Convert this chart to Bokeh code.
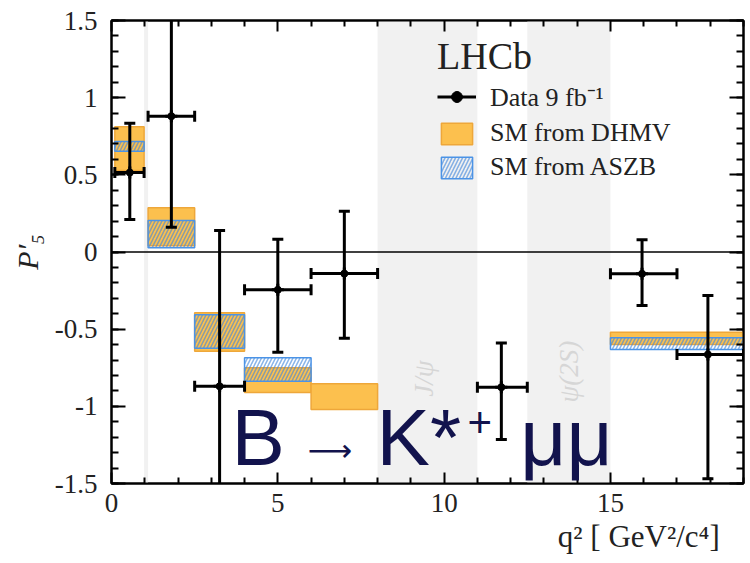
import math
from bokeh.plotting import figure
from bokeh.models import (LinearAxis, FixedTicker, CustomJSTickFormatter, Span, BoxAnnotation,
                          Label, Legend, LegendItem, ColumnDataSource, Range1d, Title)
from bokeh.embed import file_html
from bokeh.resources import INLINE

# ---------------- data ----------------
bin_lo = [0.1, 1.1, 2.5, 4.0, 6.0, 11.0, 15.0, 17.0]
bin_hi = [0.98, 2.5, 4.0, 6.0, 8.0, 12.5, 17.0, 19.0]
data_x = [0.55, 1.80, 3.25, 5.0, 7.0, 11.72, 15.95, 17.93]
data_y = [0.515, 0.88, -0.87, -0.245, -0.14, -0.876, -0.141, -0.664]
err_hi = [0.835, 1.60, 0.14, 0.083, 0.264, -0.589, 0.079, -0.282]
err_lo = [0.21, 0.16, -1.75, -0.649, -0.559, -1.215, -0.347, -1.47]

dhmv_lo_edge = [0.1, 1.1, 2.5, 4.0, 6.0, 15.0]
dhmv_hi_edge = [0.98, 2.5, 4.0, 6.0, 8.0, 19.0]
dhmv_lo = [0.528, 0.04, -0.643, -0.91, -1.02, -0.60]
dhmv_hi = [0.812, 0.286, -0.394, -0.75, -0.854, -0.52]

aszb_lo_edge = [0.1, 1.1, 2.5, 4.0, 15.0]
aszb_hi_edge = [0.98, 2.5, 4.0, 6.0, 19.0]
aszb_lo = [0.653, 0.027, -0.623, -0.837, -0.632]
aszb_hi = [0.716, 0.204, -0.407, -0.686, -0.556]

veto_lo = [0.98, 8.0, 12.5]
veto_hi = [1.1, 11.0, 15.0]
res_x = [9.38, 13.74]
res_y = [-0.82, -0.775]
res_text = ["J/ψ", "ψ(2S)"]

x_major = [0, 5, 10, 15]
x_minor = [1, 2, 3, 4, 6, 7, 8, 9, 11, 12, 13, 14, 16, 17, 18, 19]
y_major = [-1.5, -1.0, -0.5, 0.0, 0.5, 1.0, 1.5]
y_minor = [round(-1.5 + 0.1 * i, 1) for i in range(31)]

SERIF = "Liberation Serif"
INK = "#222222"

p = figure(width=746, height=560, x_range=Range1d(0, 19), y_range=Range1d(-1.5, 1.5),
           output_backend="svg", toolbar_location=None,
           min_border_left=111, min_border_top=20, min_border_right=3, min_border_bottom=77)
p.xgrid.visible = False
p.ygrid.visible = False
p.outline_line_color = "black"
p.outline_line_width = 2
p.background_fill_color = "white"

fmt = CustomJSTickFormatter(code="return tick.toString()")
blank = CustomJSTickFormatter(code="return ''")


def style_axis(ax, major, minor, tick_in, minor_in, labels=True):
    ax.ticker = FixedTicker(ticks=major, minor_ticks=minor)
    ax.major_tick_in = tick_in
    ax.major_tick_out = 0
    ax.minor_tick_in = minor_in
    ax.minor_tick_out = 0
    ax.axis_line_width = 2
    ax.major_tick_line_width = 2
    ax.minor_tick_line_width = 2
    ax.axis_line_color = "black"
    ax.major_tick_line_color = "black"
    ax.minor_tick_line_color = "black"
    if labels:
        ax.formatter = fmt
        ax.major_label_text_font = SERIF
        ax.major_label_text_font_size = "27px"
        ax.major_label_text_color = INK
    else:
        ax.formatter = blank
        ax.major_label_standoff = 0


xa = p.xaxis[0]
style_axis(xa, x_major, x_minor, 11, 6)
xa.major_label_standoff = 10
ya = p.yaxis[0]
style_axis(ya, y_major, y_minor, 14, 7)
ya.major_label_standoff = 14
ya.axis_label = "P′₅"
ya.axis_label_text_font = SERIF
ya.axis_label_text_font_style = "italic"
ya.axis_label_text_font_size = "30px"
ya.axis_label_text_color = INK
ya.axis_label_standoff = 8

top_ax = LinearAxis()
style_axis(top_ax, x_major, x_minor, 11, 6, labels=False)
p.add_layout(top_ax, "above")
right_ax = LinearAxis()
style_axis(right_ax, y_major, y_minor, 14, 7, labels=False)
p.add_layout(right_ax, "right")

# x axis title, right aligned under the axis
p.add_layout(Title(text="q²  [ GeV²/c⁴]", align="right", text_font=SERIF,
                   text_font_size="31px", text_font_style="normal", text_color=INK,
                   offset=16, standoff=5), "below")

# veto bands
for lo, hi in zip(veto_lo, veto_hi):
    p.add_layout(BoxAnnotation(left=lo, right=hi, fill_color="#f1f1f1", fill_alpha=1.0,
                               line_alpha=0, level="underlay"))

p.text(x=res_x, y=res_y, text=res_text, angle=math.pi / 2, text_font_size="27px",
       text_font=SERIF, text_font_style="italic", text_color="#d6d6d6",
       text_align="center", text_baseline="middle")

# SM predictions
orange = p.quad(left=dhmv_lo_edge, right=dhmv_hi_edge, bottom=dhmv_lo, top=dhmv_hi,
                fill_color="#fcc04e", fill_alpha=1.0, line_color="#eea73a", line_width=1.5)
blue = p.quad(left=aszb_lo_edge, right=aszb_hi_edge, bottom=aszb_lo, top=aszb_hi,
              fill_alpha=0, hatch_pattern="/", hatch_color="#3d86dc", hatch_alpha=0.6,
              hatch_scale=7, hatch_weight=1.6, line_color="#4b93e6", line_width=1.5)

p.add_layout(Span(location=0, dimension="width", line_color="black", line_width=1.5))

# data
src = ColumnDataSource(dict(x=data_x, y=data_y, lo=err_lo, hi=err_hi, xl=bin_lo, xh=bin_hi))
hseg = p.segment(x0="xl", x1="xh", y0="y", y1="y", source=src, line_color="black", line_width=3)
p.segment(x0="x", x1="x", y0="lo", y1="hi", source=src, line_color="black", line_width=3)
p.scatter(x="x", y="hi", source=src, marker="dash", size=11, line_width=3, line_color="black")
p.scatter(x="x", y="lo", source=src, marker="dash", size=11, line_width=3, line_color="black")
p.scatter(x="xl", y="y", source=src, marker="dash", size=11, angle=math.pi / 2,
          line_width=3, line_color="black")
p.scatter(x="xh", y="y", source=src, marker="dash", size=11, angle=math.pi / 2,
          line_width=3, line_color="black")
cross = p.scatter(x="x", y="y", source=src, marker="cross", size=12, line_width=3,
                  line_color="black")
dot = p.scatter(x="x", y="y", source=src, marker="circle", size=7, fill_color="black",
                line_color="black")

legend = Legend(items=[LegendItem(label="Data 9 fb⁻¹", renderers=[hseg, cross, dot]),
                       LegendItem(label="SM from DHMV", renderers=[orange]),
                       LegendItem(label="SM from ASZB", renderers=[blue])],
                location=(326, 301), title="LHCb", title_text_font=SERIF,
                title_text_font_size="38px", title_text_font_style="normal",
                title_text_color=INK, title_standoff=0,
                label_text_font=SERIF, label_text_font_size="26px", label_text_color=INK,
                glyph_width=39, glyph_height=27, label_height=27, label_standoff=14,
                spacing=4, padding=0, margin=0, border_line_color=None,
                background_fill_alpha=0)
p.add_layout(legend)

# overlay title
NAVY = "#12134d"
SANS = "Liberation Sans"
p.add_layout(Label(x=3.61, y=-1.203, text="B", text_font=SANS, text_font_size="80px",
                   text_color=NAVY, text_baseline="middle"))
p.add_layout(Label(x=5.9, y=-1.28, text="⟶", text_font="DejaVu Sans", text_font_size="31px",
                   text_color=NAVY, text_baseline="middle"))
p.add_layout(Label(x=7.97, y=-1.203, text="K*", text_font=SANS, text_font_size="80px",
                   text_color=NAVY, text_baseline="middle"))
p.add_layout(Label(x=10.70, y=-1.105, text="+", text_font=SANS, text_font_size="42px",
                   text_color=NAVY, text_baseline="middle"))
p.add_layout(Label(x=12.29, y=-1.203, text="μμ", text_font=SANS, text_font_size="80px",
                   text_color=NAVY, text_baseline="middle"))

open("out.html", "w").write(file_html(p, INLINE))
